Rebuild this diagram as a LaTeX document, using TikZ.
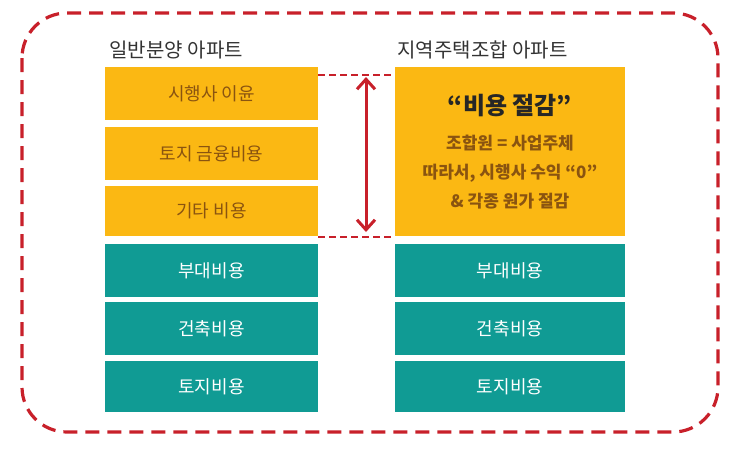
\documentclass[tikz,border=0pt]{standalone}
\usepackage{fontspec}
\usetikzlibrary{arrows.meta}
\setmainfont{Noto Sans CJK KR}
\begin{document}
\begin{tikzpicture}[x=1pt,y=-1pt,
  ob/.style={fill=orgc,draw=none,text=brn,font=\fontsize{18}{20}\selectfont},
  tb/.style={fill=tealc,draw=none,text=white,font=\fontsize{18}{20}\selectfont},
  ttl/.style={font=\fontsize{20}{22}\selectfont,text=black!80,anchor=west}]
\definecolor{orgc}{HTML}{FBB813}
\definecolor{tealc}{HTML}{109B94}
\definecolor{brn}{HTML}{8A5410}
\definecolor{redc}{HTML}{C8202A}
\useasboundingbox (0,0) rectangle (740,456);
\draw[redc,line width=3.2pt,dash pattern=on 14pt off 8pt,rounded corners=45pt] (22,13) rectangle (718,432);
\node[ttl] (t1) at (106,50) {일반분양 아파트};
\node[ttl] (t2) at (394,50) {지역주택조합 아파트};
\foreach \n/\a/\b/\s/\t in {a1/67/120/ob/시행사 이윤, a2/127/180/ob/토지 금융비용, a3/186/236/ob/기타 비용, a4/244/297/tb/부대비용, a5/302/355/tb/건축비용, a6/361/412/tb/토지비용}{
  \path[\s] (105,\a) rectangle (318,\b) node[midway] (\n) {\t};
}
\foreach \n/\a/\b/\t in {b4/244/297/부대비용, b5/302/355/건축비용, b6/361/412/토지비용}{
  \path[tb] (395,\a) rectangle (625,\b) node[midway] (\n) {\t};
}
\path[ob] (395,67) rectangle (625,236);
\node[font=\fontsize{24}{28}\selectfont\bfseries,text=black!85] (h) at (510,106) {“비용 절감”};
\node[text=brn,font=\fontsize{17}{20}\selectfont\bfseries,align=center] (d) at (510,172) {조합원 = 사업주체\\[9pt]따라서, 시행사 수익 “0”\\[9pt]\& 각종 원가 절감};
\coordinate (u1) at (318,75); \coordinate (u2) at (392,75);
\coordinate (l1) at (318,237); \coordinate (l2) at (392,237);
\draw[redc,line width=1.6pt,dash pattern=on 7pt off 4pt] (u1)--(u2);
\draw[redc,line width=1.6pt,dash pattern=on 7pt off 4pt] (l1)--(l2);
\coordinate (p1) at (366,77); \coordinate (p2) at (366,232);
\draw[redc,line width=3pt,<->,>={Straight Barb[length=10pt,width=18pt]}] (p1)--(p2);
\end{tikzpicture}
\end{document}
